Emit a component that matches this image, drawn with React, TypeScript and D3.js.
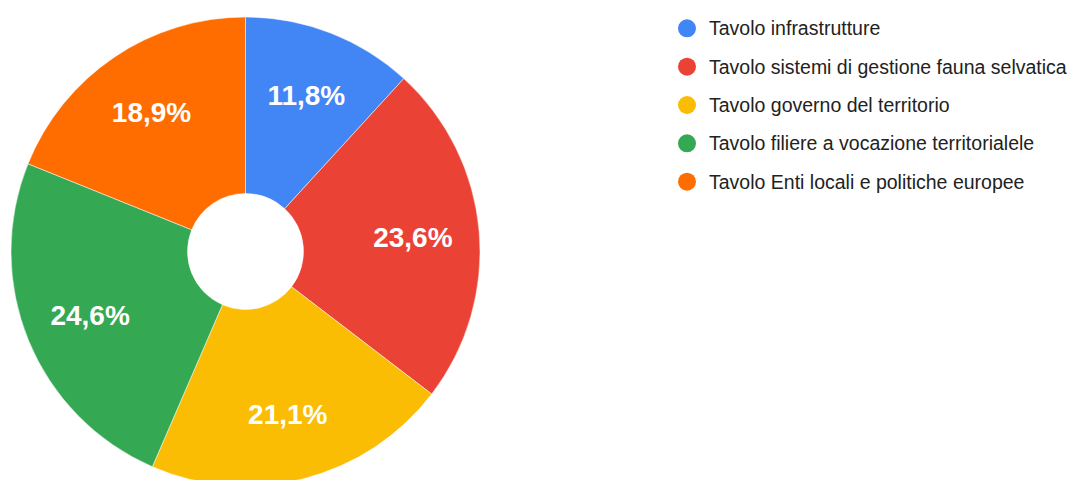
import React from "react";
import * as d3 from "d3";

const categories = [
  "Tavolo infrastrutture",
  "Tavolo sistemi di gestione fauna selvatica",
  "Tavolo governo del territorio",
  "Tavolo filiere a vocazione territorialele",
  "Tavolo Enti locali e politiche europee",
];
const values = [11.8, 23.6, 21.1, 24.6, 18.9];
const labels = ["11,8%", "23,6%", "21,1%", "24,6%", "18,9%"];
const colors = ["#4285F4", "#EA4335", "#FBBC04", "#34A853", "#FF6D01"];

export default function App() {
  const W = 1072, H = 480;
  const cx = 245.5, cy = 251.5, R = 234.5, r0 = 58, rl = 168;
  const pie = d3.pie<number>().sort(null).value((d) => d);
  const arcs = pie(values);
  const arc = d3.arc<d3.PieArcDatum<number>>().innerRadius(r0).outerRadius(R);
  const labelArc = d3.arc<d3.PieArcDatum<number>>().innerRadius(rl).outerRadius(rl);
  const legendY = d3.scaleLinear().domain([0, categories.length - 1]).range([28.3, 181.7]);
  const font = "'Liberation Sans', Arial, sans-serif";
  return (
    <svg width={W} height={H} style={{ position: "absolute", left: 0, top: 0 }} fontFamily={font}>
      <rect width={W} height={H} fill="#fff" />
      <g transform={`translate(${cx},${cy})`}>
        {arcs.map((a, i) => (
          <path key={i} d={arc(a) || ""} fill={colors[i]} stroke="#fff" strokeWidth={0.5} />
        ))}
        {arcs.map((a, i) => {
          const [x, y] = labelArc.centroid(a);
          return (
            <text key={i} x={x} y={y} dy="0.36em" textAnchor="middle" fill="#fff" fontWeight="bold" fontSize={28}>
              {labels[i]}
            </text>
          );
        })}
      </g>
      {categories.map((c, i) => (
        <g key={i} transform={`translate(0,${legendY(i)})`}>
          <circle cx={687} cy={0} r={9} fill={colors[i]} />
          <text x={709} y={0} dy="0.36em" fontSize={19.5} fill="#222">{c}</text>
        </g>
      ))}
    </svg>
  );
}
